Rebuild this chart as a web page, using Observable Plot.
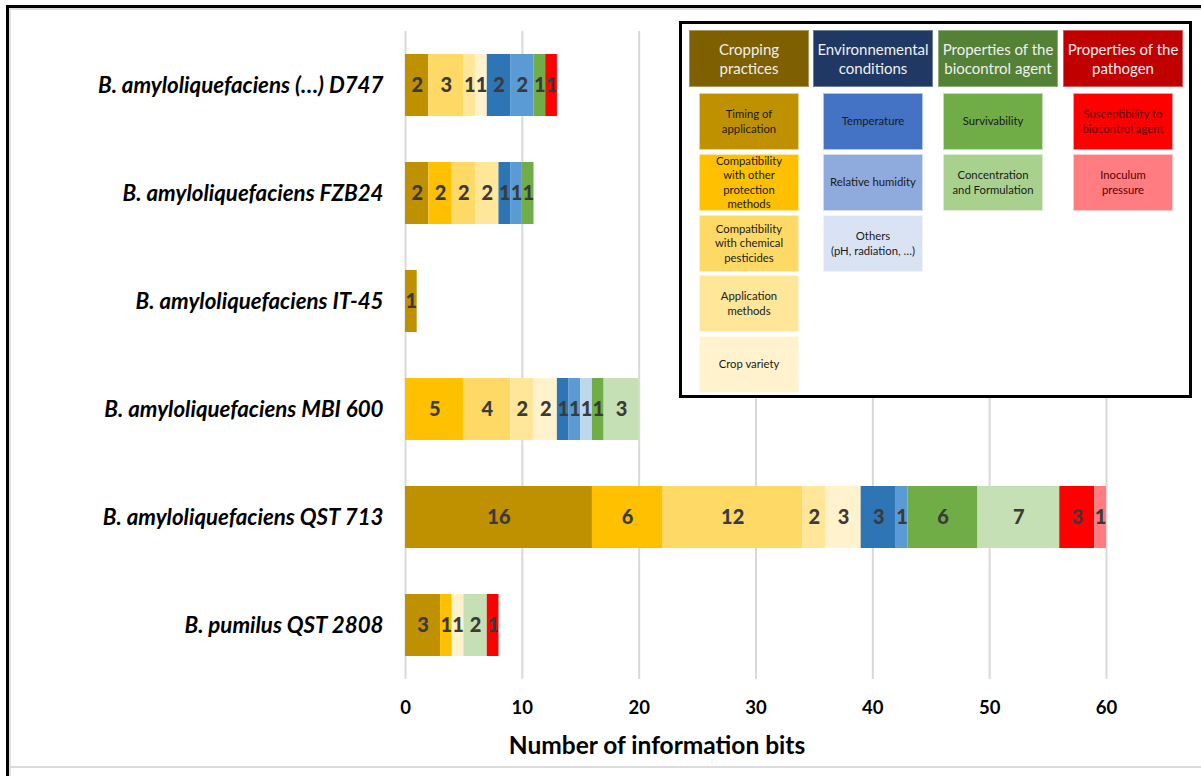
<!DOCTYPE html>
<html><head><meta charset="utf-8">
<script src="https://cdn.jsdelivr.net/npm/d3@7"></script>
<script src="https://cdn.jsdelivr.net/npm/@observablehq/plot@0.6"></script>
<style>
body{margin:0;background:#fff;}
#wrap{position:relative;width:1201px;height:776px;overflow:hidden;background:#fff;font-family:Lato,"Open Sans",sans-serif;}
#chart{position:absolute;left:0;top:0;}
.ln{position:absolute;}
#xtitle{position:absolute;left:407px;width:500px;top:729px;text-align:center;font-weight:700;font-size:24.5px;color:#000;line-height:32px;}
#legend{position:absolute;left:679px;top:21px;width:507px;height:371px;border:3px solid #000;background:#fff;}
.hd,.it{position:absolute;display:flex;align-items:center;justify-content:center;text-align:center;box-sizing:border-box;white-space:pre-line;}
.hd{height:57px;width:120px;font-size:15px;line-height:19px;color:#f0f0f0;border:1px solid rgba(255,255,255,0.35);}
.it{height:57px;width:100px;font-size:11.3px;line-height:14.5px;color:#1a1a1a;border:1px solid rgba(255,255,255,0.6);}
</style></head>
<body>
<div id="wrap">
  <div id="chart"></div>
  <div class="ln" style="left:6px;top:5px;width:1195px;height:3px;background:#000;"></div>
  <div class="ln" style="left:9px;top:8px;width:1192px;height:2px;background:#e0e0e0;"></div>
  <div class="ln" style="left:6px;top:5px;width:3px;height:771px;background:#000;"></div>
  <div class="ln" style="left:9px;top:8px;width:2px;height:768px;background:#e0e0e0;"></div>
  <div class="ln" style="left:9px;top:766px;width:1192px;height:2px;background:#dcdcdc;"></div>
  <div id="xtitle">Number of information bits</div>
  <div id="legend"></div>
</div>
<script>
// ---- data ----
const strains = [
  "B. amyloliquefaciens (…) D747",
  "B. amyloliquefaciens FZB24",
  "B. amyloliquefaciens IT-45",
  "B. amyloliquefaciens MBI 600",
  "B. amyloliquefaciens QST 713",
  "B. pumilus QST 2808"
];
const factors = [
  "Timing of application",
  "Compatibility with other protection methods",
  "Compatibility with chemical pesticides",
  "Application methods",
  "Crop variety",
  "Temperature",
  "Relative humidity",
  "Others (pH, radiation, …)",
  "Survivability",
  "Concentration and Formulation",
  "Susceptibility to biocontrol agent",
  "Inoculum pressure"
];
const barColors = ["#BF9000","#FFC000","#FFD966","#FFE699","#FFF2CC","#2E75B6","#5B9BD5","#BDD7EE","#70AD47","#C5E0B4","#FF0000","#FF7C80"];
// counts per factor (same order as factors)
const countsD747    = [2,0,3,1,1,2,2,0,1,0,1,0];
const countsFZB24   = [2,2,2,2,0,1,1,0,1,0,0,0];
const countsIT45    = [1,0,0,0,0,0,0,0,0,0,0,0];
const countsMBI600  = [0,5,4,2,2,1,1,1,1,3,0,0];
const countsQST713  = [16,6,12,2,3,3,1,0,6,7,3,1];
const countsQST2808 = [3,1,0,0,1,0,0,0,0,2,1,0];
const xTicks = [0,10,20,30,40,50,60];

// legend content
const groups = ["Cropping\npractices","Environnemental\nconditions","Properties of the\nbiocontrol agent","Properties of the\npathogen"];
const groupColors = ["#7F6000","#1F3864","#538135","#C00000"];
const legendItems = [
  [["Timing of\napplication","#BF9000"],["Compatibility\nwith other\nprotection\nmethods","#FFC000"],["Compatibility\nwith chemical\npesticides","#FFD966"],["Application\nmethods","#FFE699"],["Crop variety","#FFF2CC"]],
  [["Temperature","#4472C4"],["Relative humidity","#8FAADC"],["Others\n(pH, radiation, …)","#DAE3F3"]],
  [["Survivability","#70AD47"],["Concentration\nand Formulation","#A9D18E"]],
  [["Susceptibility to\nbiocontrol agent","#FF0000"],["Inoculum\npressure","#FF7C80"]]
];

// ---- build ----
const counts = [countsD747,countsFZB24,countsIT45,countsMBI600,countsQST713,countsQST2808];
const rows = [];
strains.forEach((s,i)=>factors.forEach((f,j)=>{const v=counts[i][j]; if(v>0) rows.push({strain:s,factor:f,value:v});}));

const font = "Lato, 'Open Sans', sans-serif";
const chart = Plot.plot({
  width:1201, height:776,
  marginLeft:405, marginRight:95, marginTop:31, marginBottom:97,
  style:{fontFamily:font, background:"transparent", color:"#000"},
  x:{domain:[0,60], label:null},
  y:{domain:strains, paddingInner:0.43, paddingOuter:0.215, label:null},
  color:{domain:factors, range:barColors},
  marks:[
    Plot.ruleX(xTicks,{stroke:"#d9d9d9", strokeWidth:2}),
    Plot.barX(rows, Plot.stackX({x:"value", y:"strain", fill:"factor"})),
    Plot.text(rows, Plot.stackX({x:"value", y:"strain", text:d=>String(d.value), fill:"#3a3a3a", fontWeight:900, fontSize:20})),
    Plot.axisX(xTicks,{tickSize:0, tickPadding:21, fontSize:18.5, fontWeight:700, label:null, tickFormat:d=>String(d)}),
    Plot.axisY({tickSize:0, tickPadding:22, fontSize:22.3, fontWeight:700, fontStyle:"italic", label:null})
  ]
});
document.getElementById("chart").appendChild(chart);

const lg = document.getElementById("legend");
const hdLeft=[689,813,938,1063], itLeft=[699,823,943,1073], itTop=[93,154,215,275,336];
groups.forEach((g,i)=>{
  const d=document.createElement("div"); d.className="hd"; d.textContent=g;
  d.style.left=(hdLeft[i]-682)+"px"; d.style.top=(30-24)+"px"; d.style.background=groupColors[i];
  lg.appendChild(d);
  legendItems[i].forEach(([t,c],k)=>{
    const e=document.createElement("div"); e.className="it"; e.textContent=t;
    e.style.left=(itLeft[i]-682)+"px"; e.style.top=(itTop[k]-24)+"px"; e.style.background=c;
    if(i===3) e.style.color="#5a0000";
    lg.appendChild(e);
  });
});
</script>
</body></html>
